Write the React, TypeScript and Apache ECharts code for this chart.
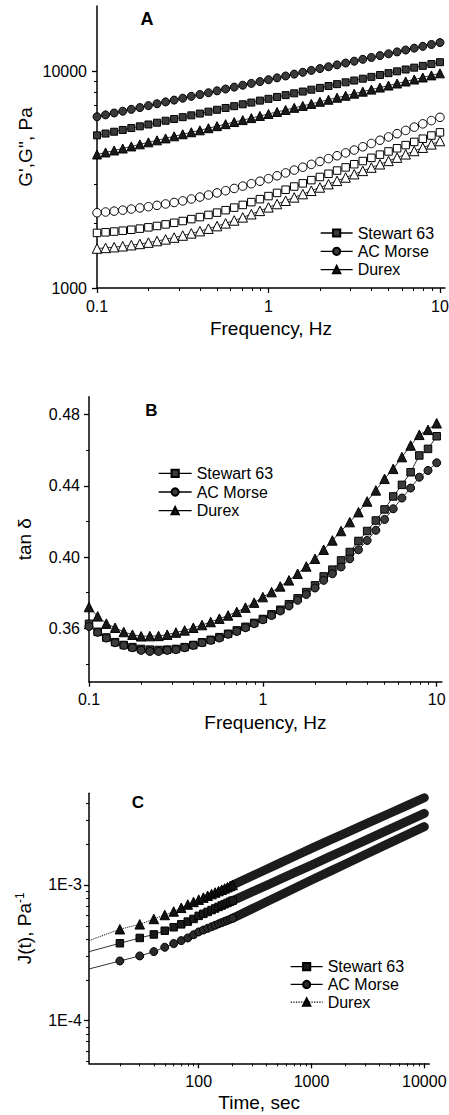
import { useEffect, useRef } from 'react';
import * as echarts from 'echarts';

// ---------- Panel A & B : frequency sweep ----------
const freqHz = [0.1, 0.1122, 0.1259, 0.1413, 0.1585, 0.1778, 0.1995, 0.2239, 0.2512, 0.2818, 0.3162, 0.3548, 0.3981, 0.4467, 0.5012, 0.5623, 0.631, 0.7079, 0.7943, 0.8913, 1, 1.122, 1.259, 1.413, 1.585, 1.778, 1.995, 2.239, 2.512, 2.818, 3.162, 3.548, 3.981, 4.467, 5.012, 5.623, 6.31, 7.079, 7.943, 8.913, 10];

// G' (filled symbols)
const gPrimeStewart = [5060, 5160, 5260, 5360, 5470, 5570, 5680, 5790, 5910, 6020, 6140, 6260, 6380, 6510, 6640, 6770, 6900, 7040, 7170, 7320, 7460, 7610, 7760, 7910, 8060, 8220, 8380, 8550, 8720, 8890, 9060, 9240, 9420, 9610, 9800, 9990, 10190, 10390, 10590, 10800, 11010];
const gPrimeAcMorse = [6170, 6290, 6420, 6540, 6670, 6800, 6940, 7080, 7220, 7360, 7510, 7660, 7810, 7960, 8120, 8280, 8450, 8620, 8790, 8960, 9140, 9320, 9510, 9700, 9890, 10090, 10290, 10490, 10700, 10910, 11130, 11350, 11580, 11810, 12040, 12280, 12530, 12780, 13030, 13290, 13560];
const gPrimeDurex = [4130, 4220, 4310, 4400, 4500, 4600, 4700, 4800, 4900, 5010, 5120, 5230, 5340, 5460, 5580, 5700, 5830, 5950, 6080, 6220, 6350, 6490, 6630, 6780, 6920, 7070, 7230, 7390, 7550, 7710, 7880, 8050, 8230, 8410, 8590, 8780, 8970, 9160, 9360, 9570, 9780];

// G'' (open symbols)
const gDoubleStewart = [1795, 1807, 1821, 1838, 1857, 1879, 1905, 1933, 1965, 1999, 2037, 2079, 2124, 2174, 2227, 2286, 2349, 2417, 2490, 2569, 2655, 2746, 2841, 2939, 3040, 3145, 3253, 3365, 3481, 3601, 3724, 3853, 3985, 4123, 4265, 4411, 4563, 4720, 4883, 5051, 5224];
const gDoubleAcMorse = [2223, 2242, 2263, 2287, 2313, 2341, 2372, 2406, 2442, 2481, 2523, 2574, 2628, 2686, 2746, 2811, 2879, 2952, 3028, 3109, 3195, 3294, 3396, 3500, 3608, 3719, 3834, 3953, 4075, 4201, 4330, 4484, 4642, 4806, 4976, 5152, 5334, 5523, 5718, 5920, 6129];
const gDoubleDurex = [1521, 1531, 1543, 1558, 1576, 1597, 1620, 1647, 1676, 1709, 1746, 1786, 1829, 1878, 1930, 1987, 2049, 2117, 2190, 2269, 2355, 2440, 2527, 2618, 2712, 2809, 2909, 3014, 3122, 3234, 3350, 3470, 3594, 3723, 3857, 3995, 4138, 4287, 4440, 4600, 4764];

// tan delta
const tanStewart = [0.3625, 0.358, 0.3548, 0.3522, 0.3506, 0.3494, 0.3484, 0.348, 0.3478, 0.348, 0.3484, 0.3494, 0.3506, 0.3521, 0.3535, 0.355, 0.3569, 0.3588, 0.3608, 0.363, 0.3652, 0.3678, 0.3704, 0.3735, 0.3768, 0.3803, 0.3841, 0.3891, 0.3929, 0.3981, 0.4028, 0.409, 0.4146, 0.4205, 0.4267, 0.434, 0.4405, 0.4476, 0.457, 0.4607, 0.4678];
const tanAcMorse = [0.361, 0.3577, 0.3545, 0.3519, 0.3504, 0.3491, 0.3476, 0.347, 0.347, 0.3476, 0.348, 0.3491, 0.3504, 0.3519, 0.3532, 0.3545, 0.3566, 0.3582, 0.3603, 0.3626, 0.3648, 0.3672, 0.3697, 0.3725, 0.3757, 0.379, 0.3826, 0.3869, 0.3906, 0.3944, 0.399, 0.4041, 0.4093, 0.415, 0.4211, 0.4271, 0.4331, 0.4387, 0.4448, 0.4486, 0.4529];
const tanDurex = [0.3719, 0.3667, 0.3626, 0.3603, 0.3579, 0.3564, 0.3555, 0.3556, 0.3557, 0.3564, 0.3576, 0.3588, 0.3603, 0.3618, 0.3635, 0.3654, 0.3672, 0.3692, 0.3716, 0.3744, 0.3775, 0.3803, 0.3835, 0.3869, 0.3906, 0.3947, 0.399, 0.4041, 0.4093, 0.4146, 0.4196, 0.4252, 0.4312, 0.4374, 0.4439, 0.4495, 0.4561, 0.4626, 0.4686, 0.4714, 0.4751];

// ---------- Panel C : creep compliance ----------
// first entry = start of the fitted line at the axis edge (no symbol)
const timeSec = [10.65, 20, 30, 40, 50, 60, 70, 80, 90, 100, 110, 120, 130, 140, 150, 160, 170, 180, 190, 200];
const jStewart = [3.225e-4, 3.72e-4, 4.07e-4, 4.32e-4, 4.6e-4, 4.88e-4, 5.13e-4, 5.37e-4, 5.62e-4, 5.92e-4, 6.13e-4, 6.33e-4, 6.53e-4, 6.71e-4, 6.89e-4, 7.06e-4, 7.22e-4, 7.37e-4, 7.53e-4, 7.67e-4];
const jAcMorse = [2.404e-4, 2.754e-4, 3.0e-4, 3.228e-4, 3.475e-4, 3.7e-4, 3.89e-4, 4.07e-4, 4.3e-4, 4.51e-4, 4.655e-4, 4.79e-4, 4.925e-4, 5.05e-4, 5.17e-4, 5.28e-4, 5.39e-4, 5.49e-4, 5.59e-4, 5.69e-4];
const jDurex = [3.89e-4, 4.72e-4, 5.13e-4, 5.62e-4, 6.01e-4, 6.38e-4, 6.79e-4, 7.18e-4, 7.5e-4, 7.8e-4, 8.07e-4, 8.33e-4, 8.57e-4, 8.8e-4, 9.02e-4, 9.23e-4, 9.43e-4, 9.63e-4, 9.82e-4, 1.0e-3];
// dense part of the record (markers merge into a band)
const timeBand = [200, 300, 400, 500, 700, 1000, 1500, 2000, 3000, 5000, 7000, 10000];
const jStewartBand = [7.67e-4, 8.93e-4, 9.95e-4, 1.082e-3, 1.227e-3, 1.403e-3, 1.637e-3, 1.827e-3, 2.132e-3, 2.59e-3, 2.944e-3, 3.373e-3];
const jAcMorseBand = [5.69e-4, 6.7e-4, 7.52e-4, 8.23e-4, 9.43e-4, 1.089e-3, 1.277e-3, 1.429e-3, 1.677e-3, 2.05e-3, 2.339e-3, 2.692e-3];
const jDurexBand = [1.0e-3, 1.169e-3, 1.307e-3, 1.424e-3, 1.622e-3, 1.862e-3, 2.166e-3, 2.411e-3, 2.805e-3, 3.394e-3, 3.847e-3, 4.395e-3];

// ---------- tick values ----------
const freqMajor = [0.1, 1, 10];
const freqMinor = [0.2, 0.3, 0.4, 0.5, 0.6, 0.7, 0.8, 0.9, 2, 3, 4, 5, 6, 7, 8, 9];
const gMajor = [1000, 10000];
const gMinor = [2000, 3000, 4000, 5000, 6000, 7000, 8000, 9000];
const tanMajor = [0.36, 0.4, 0.44, 0.48];
const tanMinor = [0.34, 0.38, 0.42, 0.46];
const timeMajor = [100, 1000, 10000];
const timeMinor = [20, 30, 40, 50, 60, 70, 80, 90, 200, 300, 400, 500, 600, 700, 800, 900, 2000, 3000, 4000, 5000, 6000, 7000, 8000, 9000];
const jMajor = [1e-4, 1e-3];
const jMinor = [5e-5, 6e-5, 7e-5, 8e-5, 9e-5, 2e-4, 3e-4, 4e-4, 5e-4, 6e-4, 7e-4, 8e-4, 9e-4, 2e-3, 3e-3, 4e-3];

const names = ['Stewart 63', 'AC Morse', 'Durex'];

const FONT = '"Liberation Sans", Arial, Helvetica, sans-serif';

function axisPair(dim: 'x' | 'y', gridIndex: number, type: string, min: number, max: number,
  major: number[], minor: number[], fmt: (v: number) => string, margin: number,
  name: string, nameGap: number, rich?: any) {
  const position = dim === 'x' ? 'bottom' : 'left';
  const main: any = {
    type, gridIndex, min, max, position,
    axisLine: { show: true, onZero: false, lineStyle: { color: '#000', width: 1.5 } },
    axisTick: { show: true, customValues: major, length: 5, inside: false, lineStyle: { color: '#000', width: 1.3 } },
    minorTick: { show: false },
    axisLabel: { show: true, customValues: major, formatter: (v: number) => fmt(Number(v)), margin, fontSize: 16, color: '#000', fontFamily: FONT, hideOverlap: false },
    splitLine: { show: false },
    name, nameLocation: 'middle', nameGap, nameMoveOverlap: false,
    nameTextStyle: { fontSize: 19, color: '#000', fontFamily: FONT, rich },
    silent: true,
  };
  if (type === 'log') main.logBase = 10;
  const sub: any = {
    type, gridIndex, min, max, position,
    axisLine: { show: false, onZero: false },
    axisTick: { show: true, customValues: minor, length: 3, inside: false, lineStyle: { color: '#000', width: 1 } },
    minorTick: { show: false },
    axisLabel: { show: false },
    splitLine: { show: false },
    silent: true,
  };
  if (type === 'log') sub.logBase = 10;
  return [main, sub];
}

const fmtFreq = (v: number) => (v < 1 ? String(+v.toFixed(1)) : String(Math.round(v)));
const fmtInt = (v: number) => String(Math.round(v));
const fmtTan = (v: number) => v.toFixed(2);
const fmtExp = (v: number) => '1E' + Math.round(Math.log10(v));

function markerSeries(id: string, axis: number, xs: number[], ys: number[], symbol: string, size: number,
  fill: string, lineType = 'solid', lineWidth = 0.8, skipFirstSymbol = false) {
  return {
    type: 'line', name: id, xAxisIndex: axis, yAxisIndex: axis,
    data: xs.map((x, i) => (skipFirstSymbol && i === 0 ? { value: [x, ys[i]], symbol: 'none' } : [x, ys[i]])),
    symbol, symbolSize: size, showSymbol: true, showAllSymbol: true,
    itemStyle: { color: fill, borderColor: '#000', borderWidth: 1 },
    lineStyle: { color: '#000', width: lineWidth, type: lineType },
    emphasis: { disabled: true }, silent: true, animation: false,
  };
}

function bandSeries(id: string, xs: number[], ys: number[]) {
  return {
    type: 'line', name: id, xAxisIndex: 4, yAxisIndex: 4,
    data: xs.map((x, i) => [x, ys[i]]), symbol: 'none',
    lineStyle: { color: '#1c1c1c', width: 9, cap: 'round', join: 'round' },
    emphasis: { disabled: true }, silent: true, z: 1,
  };
}

function legendFor(panel: string, left: number, top: number, itemWidth: number, itemGap: number) {
  return {
    orient: 'vertical', left, top, itemWidth, itemHeight: 9, itemGap,
    data: names.map((n) => panel + '|' + n),
    formatter: (n: string) => n.split('|')[1],
    textStyle: { fontSize: 16, color: '#000', fontFamily: FONT },
    lineStyle: { width: 1.3, color: '#000' },
    selectedMode: false, padding: 0,
  };
}

export default function App() {
  const ref = useRef<HTMLDivElement>(null);
  useEffect(() => {
    document.body.style.margin = '0';
    if (!ref.current) return;
    const chart = echarts.init(ref.current, null, { renderer: 'svg' });
    const xA = axisPair('x', 0, 'log', 0.1, 10.7, freqMajor, freqMinor, fmtFreq, 10, 'Frequency, Hz', 31);
    const yA = axisPair('y', 0, 'log', 1000, 20000, gMajor, gMinor, fmtInt, 10, "G',G'', Pa", 62);
    const xB = axisPair('x', 1, 'log', 0.1, 10.7, freqMajor, freqMinor, fmtFreq, 10, 'Frequency, Hz', 31);
    const yB = axisPair('y', 1, 'value', 0.33, 0.49, tanMajor, tanMinor, fmtTan, 9, 'tan δ', 55);
    const xC = axisPair('x', 2, 'log', 10.65, 11070, timeMajor, timeMinor, fmtInt, 10, 'Time, sec', 30);
    const yC = axisPair('y', 2, 'log', 4.85e-5, 4.74e-3, jMajor, jMinor, fmtExp, 7, 'J(t), Pa{sup|-1}', 55,
      { sup: { fontSize: 12, verticalAlign: 'top', padding: [0, 0, 8, 0], fontFamily: FONT, color: '#000' } });

    const option: any = {
      animation: false,
      backgroundColor: '#fff',
      textStyle: { fontFamily: FONT },
      grid: [
        { left: 97, top: 6, width: 348, height: 282, outerBoundsMode: 'none', containLabel: false },
        { left: 89, top: 396.7, width: 352.8, height: 285, outerBoundsMode: 'none', containLabel: false },
        { left: 89, top: 793.3, width: 340.3, height: 270, outerBoundsMode: 'none', containLabel: false },
      ],
      xAxis: [...xA, ...xB, ...xC],
      yAxis: [...yA, ...yB, ...yC],
      legend: [
        legendFor('A', 320, 225, 32, 2.3),
        legendFor('B', 158, 465.3, 33, 2.7),
        legendFor('C', 290, 958.7, 32, 1.7),
      ],
      graphic: [
        { type: 'text', x: 147, y: 18.5, style: { text: 'A', font: 'bold 18px ' + FONT, align: 'center', verticalAlign: 'middle', fill: '#000' } },
        { type: 'text', x: 151.5, y: 410, style: { text: 'B', font: 'bold 17px ' + FONT, align: 'center', verticalAlign: 'middle', fill: '#000' } },
        { type: 'text', x: 138, y: 802.5, style: { text: 'C', font: 'bold 17px ' + FONT, align: 'center', verticalAlign: 'middle', fill: '#000' } },
      ],
      series: [
        markerSeries('A|Stewart 63', 0, freqHz, gPrimeStewart, 'rect', 7, '#3a3a3a'),
        markerSeries('A|AC Morse', 0, freqHz, gPrimeAcMorse, 'circle', 8, '#3a3a3a'),
        markerSeries('A|Durex', 0, freqHz, gPrimeDurex, 'triangle', 9, '#1a1a1a'),
        markerSeries('A|Stewart 63 G"', 0, freqHz, gDoubleStewart, 'rect', 7.5, '#fff'),
        markerSeries('A|AC Morse G"', 0, freqHz, gDoubleAcMorse, 'circle', 8.5, '#fff'),
        markerSeries('A|Durex G"', 0, freqHz, gDoubleDurex, 'triangle', 9.5, '#fff'),

        markerSeries('B|Stewart 63', 2, freqHz, tanStewart, 'rect', 7.5, '#3a3a3a'),
        markerSeries('B|AC Morse', 2, freqHz, tanAcMorse, 'circle', 8, '#3a3a3a'),
        markerSeries('B|Durex', 2, freqHz, tanDurex, 'triangle', 9.5, '#1a1a1a'),

        bandSeries('C|Stewart 63 band', timeBand, jStewartBand),
        bandSeries('C|AC Morse band', timeBand, jAcMorseBand),
        bandSeries('C|Durex band', timeBand, jDurexBand),
        markerSeries('C|Stewart 63', 4, timeSec, jStewart, 'rect', 7.5, '#1a1a1a', 'solid', 0.8, true),
        markerSeries('C|AC Morse', 4, timeSec, jAcMorse, 'circle', 8, '#2a2a2a', 'solid', 0.8, true),
        markerSeries('C|Durex', 4, timeSec, jDurex, 'triangle', 9.5, '#111', 'dotted', 1, true),
      ],
    };
    chart.setOption(option);
    return () => chart.dispose();
  }, []);
  return <div ref={ref} style={{ width: 449, height: 1115 }} />;
}
